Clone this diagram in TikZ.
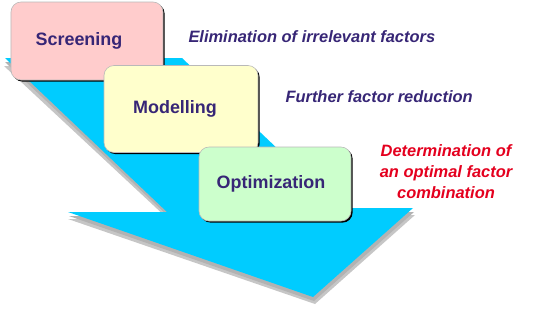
\documentclass[tikz,border=0pt]{standalone}
\usepackage{fontspec}
\setmainfont{Liberation Sans}
\usepackage{xcolor}
\usepackage{tikz}
\usetikzlibrary{positioning,shadows}

\definecolor{bandcyan}{RGB}{0,204,255}
\definecolor{txtpurple}{RGB}{55,38,118}
\definecolor{txtred}{RGB}{228,0,30}
\definecolor{boxpink}{RGB}{255,204,204}
\definecolor{boxyellow}{RGB}{255,255,204}
\definecolor{boxgreen}{RGB}{204,255,204}

\begin{document}
\begin{tikzpicture}[
  x=1bp, y=-1bp,
  stage/.style={rectangle, draw=gray!55, rounded corners=10bp, line width=0.6bp,
              font=\fontsize{18}{21}\selectfont\bfseries, text=txtpurple,
              minimum width=152bp, minimum height=78bp,
              drop shadow={shadow xshift=1.6bp, shadow yshift=-1.6bp, fill=black, opacity=1}},
  note/.style={font=\fontsize{16.5}{21}\selectfont\bfseries\itshape, text=txtpurple, align=left},
]
\useasboundingbox (0,0) rectangle (534,314);

% Band arrow with its shadow
\fill[gray!45] (4,66) -- (183,66) -- (341,215) -- (415,215) -- (315,304) -- (68,219) -- (168,219) -- cycle;
\fill[gray!60] (5,62) -- (183,62) -- (341,212) -- (414,212) -- (314,301) -- (69,216) -- (168,216) -- cycle;
\fill[bandcyan] (5,58) -- (182,58) -- (340,208) -- (413,208) -- (313,297) -- (68,212) -- (167,212) -- cycle;

% Stages
\node[stage, fill=boxpink] (SC) at (87,41) {Screening\kern16bp};
\node[stage, fill=boxyellow, minimum width=154bp, minimum height=87bp] (MO) at (181,109) {Modelling\kern12bp};
\node[stage, fill=boxgreen, minimum height=74bp] (OP) at (275,184) {Optimization\kern8bp};

% Notes
\node[note, anchor=west] (EL) at (185,37) {Elimination of irrelevant factors};
\node[note, anchor=west] (FR) at (282,97) {Further factor reduction};
\node[note, text=txtred, align=center] (DT) at (446,172) {Determination of\\an optimal factor\\combination};
\end{tikzpicture}
\end{document}
